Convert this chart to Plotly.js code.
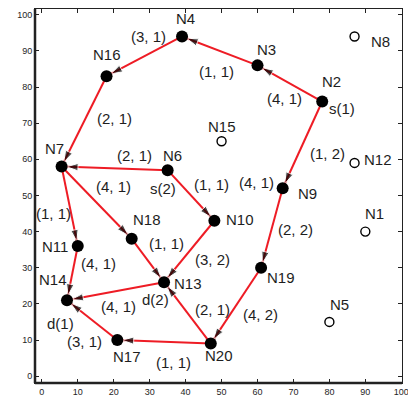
<!DOCTYPE html>
<html>
<head>
<meta charset="utf-8">
<script src="https://cdn.plot.ly/plotly-3.0.1.min.js"></script>
<style>html,body{margin:0;padding:0;background:#fff}#chart{width:408px;height:396px}</style>
</head>
<body>
<div id="chart"></div>
<script>
// ---- data ----
const nodeNames = ['N1','N2','N3','N4','N5','N6','N7','N8','N9','N10','N11','N12','N13','N14','N15','N16','N17','N18','N19','N20'];
const nodeX = [90, 78, 60, 39, 80, 35, 5.5, 87, 67, 48, 10, 87, 34, 7, 50, 18, 21, 25, 61, 47];
const nodeY = [40, 76, 86, 94, 15, 57, 58, 94, 52, 43, 36, 59, 26, 21, 65, 83, 10, 38, 30, 9];
const idleNodes = ['N1','N5','N8','N12','N15'];

const edgeFrom = ['N2','N3','N4','N16','N6','N7','N11','N7','N18','N13','N6','N10','N2','N9','N19','N20','N20','N17'];
const edgeTo   = ['N3','N4','N16','N7','N7','N11','N14','N18','N13','N14','N10','N13','N9','N19','N20','N13','N17','N14'];

const edgeLabelText = ['(4, 1)','(1, 1)','(3, 1)','(2, 1)','(2, 1)','(1, 1)','(4, 1)','(4, 1)','(1, 1)','(4, 1)','(1, 1)','(3, 2)','(1, 2)','(4, 1)','(2, 2)','(4, 2)','(2, 1)','(1, 1)','(3, 1)'];
const edgeLabelX = [67.4, 48.5, 29.7, 20.2, 25.9, 3.2, 15.7, 19.9, 34.6, 21.3, 47.3, 47.5, 79.4, 59.6, 70.6, 60.9, 47.5, 36.6, 12];
const edgeLabelY = [76.9, 84.2, 94, 71.4, 61, 45.1, 31.3, 52.5, 36.8, 19.3, 52.9, 32.2, 61.7, 53.5, 40.5, 17, 18.4, 3.9, 9.6];

const nodeLabelX = [92.6, 80.7, 62.4, 39.9, 82.8, 36.4, 3.5, 94.1, 73.9, 55.1, 3.7, 93.6, 40.8, 3, 50.1, 18.2, 23.6, 29.2, 66.5, 49.3];
const nodeLabelY = [44.9, 81.4, 90.3, 98.9, 19.7, 61, 62.9, 92.6, 50.6, 43.3, 35.9, 59.9, 25.7, 26.7, 69, 89.1, 5.4, 43.3, 27.4, 5.6];

const roleText = ['s(1)','s(2)','d(1)','d(2)'];
const roleX = [83.6, 33.8, 5.1, 31.5];
const roleY = [74.2, 52, 14.7, 21.1];

const tickVals = [0,10,20,30,40,50,60,70,80,90,100];

// ---- build ----
const idx = n => nodeNames.indexOf(n);
const lx = [], ly = [], ax = [], ay = [], as = [];
edgeFrom.forEach((f, i) => {
  const a = idx(f), b = idx(edgeTo[i]);
  lx.push(nodeX[a], nodeX[b], null); ly.push(nodeY[a], nodeY[b], null);
  ax.push(nodeX[a], nodeX[b]); ay.push(nodeY[a], nodeY[b]); as.push(0, 12);
});

const active = nodeNames.map((n,i)=>i).filter(i => !idleNodes.includes(nodeNames[i]));
const idle = nodeNames.map((n,i)=>i).filter(i => idleNodes.includes(nodeNames[i]));

const FONT = 'Liberation Sans, Arial, Helvetica, sans-serif';
const TXT = '#1e1e1e';

const traces = [
  {type:'scatter', mode:'lines', x:lx, y:ly, line:{color:'#ee1c25', width:2}, hoverinfo:'skip'},
  {type:'scatter', mode:'markers', x:ax, y:ay,
   marker:{symbol:'arrow', size:as, color:'#000', angleref:'previous', standoff:5}, hoverinfo:'skip'},
  {type:'scatter', mode:'markers', x:active.map(i=>nodeX[i]), y:active.map(i=>nodeY[i]),
   marker:{symbol:'circle', size:12, color:'#000'}, hoverinfo:'skip'},
  {type:'scatter', mode:'markers', x:idle.map(i=>nodeX[i]), y:idle.map(i=>nodeY[i]),
   marker:{symbol:'circle-open', size:9, color:'#000', line:{width:1.4, color:'#000'}}, hoverinfo:'skip'}
];

const ann = [];
const addText = (t, x, y) => ann.push({x, y, text:t, showarrow:false, xanchor:'center', yanchor:'middle',
  font:{family:FONT, size:15, color:TXT}});
nodeNames.forEach((n,i) => addText(n, nodeLabelX[i], nodeLabelY[i]));
edgeLabelText.forEach((t,i) => addText(t, edgeLabelX[i], edgeLabelY[i]));
roleText.forEach((t,i) => addText(t, roleX[i], roleY[i]));

const axisCommon = {
  tickvals: tickVals, ticktext: tickVals.map(String), ticks:'inside', ticklen:4, tickwidth:1, tickcolor:'#222',
  showline:true, linecolor:'#222', linewidth:1, mirror:'ticks', showgrid:false, zeroline:false,
  tickfont:{family:FONT, size:9, color:TXT}, fixedrange:true, ticklabeloverflow:'allow'
};

const layout = {
  width:408, height:396,
  margin:{l:35, r:6, t:9, b:13},
  paper_bgcolor:'#fff', plot_bgcolor:'#fff',
  showlegend:false,
  xaxis: Object.assign({}, axisCommon, {range:[-1.9, 100.2]}),
  yaxis: Object.assign({}, axisCommon, {range:[-1.9, 101.6]}),
  annotations: ann,
  shapes: [
    {type:'line', xref:'paper', yref:'paper', x0:0, x1:0, y0:0, y1:1, line:{color:'#222', width:2.5}},
    {type:'line', xref:'paper', yref:'paper', x0:0, x1:1, y0:0, y1:0, line:{color:'#222', width:2.5}}
  ]
};

Plotly.newPlot('chart', traces, layout, {displayModeBar:false, staticPlot:true});
</script>
</body>
</html>
